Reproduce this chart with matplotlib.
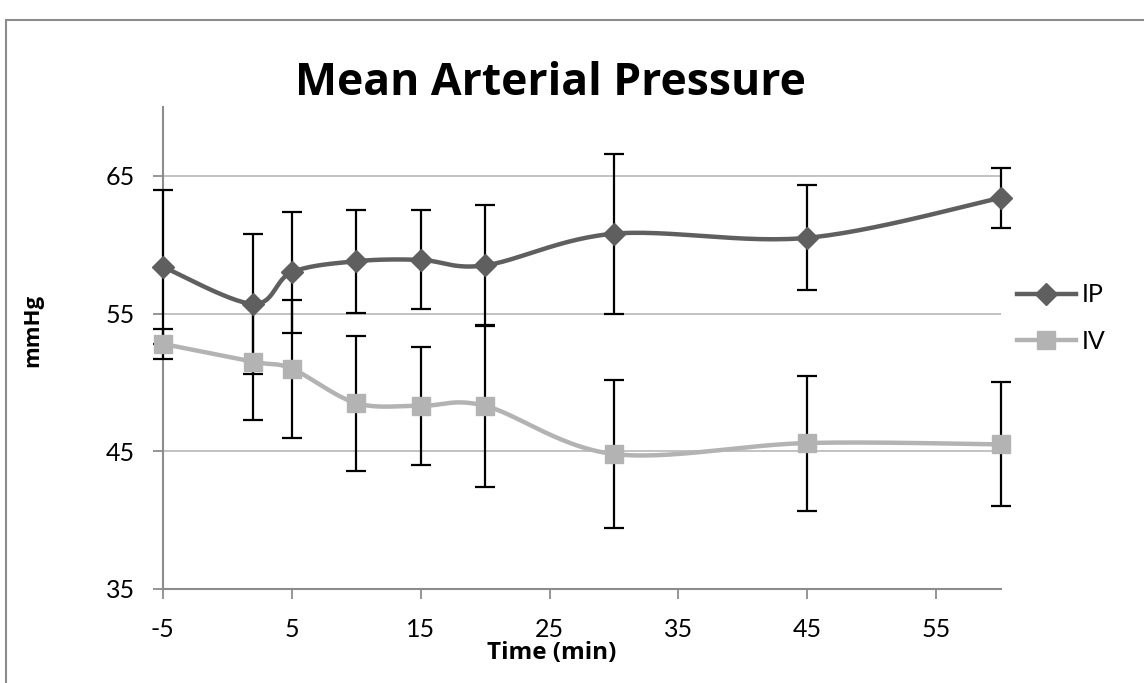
import numpy as np
import matplotlib
matplotlib.use("Agg")
import matplotlib.pyplot as plt
from matplotlib.patches import Rectangle
from matplotlib.lines import Line2D

plt.rcParams['font.family'] = ['Lato', 'DejaVu Sans']
plt.rcParams['axes.unicode_minus'] = False

# ---- data ----
time_min = [-5, 2, 5, 10, 15, 20, 30, 45, 60]
ip_mean = [58.4, 55.7, 58.0, 58.8, 58.9, 58.5, 60.8, 60.5, 63.4]
ip_err = [5.6, 5.1, 4.4, 3.75, 3.6, 4.4, 5.8, 3.8, 2.2]
iv_mean = [52.8, 51.5, 51.0, 48.5, 48.3, 48.3, 44.8, 45.6, 45.5]
iv_err = [1.1, 4.2, 5.0, 4.9, 4.3, 5.9, 5.4, 4.9, 4.5]
series_names = ["IP", "IV"]
x_ticks = [-5, 5, 15, 25, 35, 45, 55]
y_ticks = [35, 45, 55, 65]


def smooth(xs, ys, n=30):
    """Bezier smoothing like a spreadsheet 'smoothed line' (rendering only)."""
    P = np.column_stack([np.asarray(xs, float), np.asarray(ys, float)])
    out = []
    m = len(P)
    for i in range(m - 1):
        p0 = P[i - 1] if i > 0 else P[i]
        p1 = P[i]
        p2 = P[i + 1]
        p3 = P[i + 2] if i + 2 < m else P[i + 1]
        c1 = p1 + (p2 - p0) / 6.0
        c2 = p2 - (p3 - p1) / 6.0
        t = np.linspace(0, 1, n)[:, None]
        seg = ((1 - t) ** 3) * p1 + 3 * ((1 - t) ** 2) * t * c1 + 3 * (1 - t) * t ** 2 * c2 + t ** 3 * p2
        out.append(seg if i == 0 else seg[1:])
    out = np.vstack(out)
    return out[:, 0], out[:, 1]


W, H = 1144, 683
fig = plt.figure(figsize=(W / 100, H / 100), dpi=100)
fig.patch.set_facecolor("white")

# outer chart border
fig.patches.append(Rectangle((6 / W, -0.05), 1.2, (H - 20) / H + 0.05,
                             transform=fig.transFigure, fill=False,
                             edgecolor="#8c8c8c", linewidth=1.5))

ax = fig.add_axes([162.8 / W, 1 - 589 / H, (1000.7 - 162.8) / W, (589 - 107) / H])
ax.set_xlim(-5, 60)
ax.set_ylim(35, 70)

ip_col = "#5f5f5f"
iv_col = "#b3b3b3"

# error bars
for mean, err in ((ip_mean, ip_err), (iv_mean, iv_err)):
    eb = ax.errorbar(time_min, mean, yerr=err, fmt="none", ecolor="black",
                     elinewidth=1.6, capsize=7, capthick=1.6, zorder=3)
    for art in eb.lines[1] + eb.lines[2]:
        art.set_clip_on(False)

# smoothed lines
sx, sy = smooth(time_min, ip_mean)
ax.plot(sx, sy, color=ip_col, lw=3.2, zorder=4, solid_capstyle="round", clip_on=False)
sx, sy = smooth(time_min, iv_mean)
ax.plot(sx, sy, color=iv_col, lw=3.2, zorder=4, solid_capstyle="round", clip_on=False)

# markers
ax.plot(time_min, ip_mean, linestyle="none", marker="D", ms=11.5,
        color=ip_col, mec=ip_col, zorder=5, clip_on=False)
ax.plot(time_min, iv_mean, linestyle="none", marker="s", ms=12.5,
        color=iv_col, mec=iv_col, zorder=5, clip_on=False)

# legend
h_ip = Line2D([], [], color=ip_col, lw=3.2, marker="D", ms=11.5)
h_iv = Line2D([], [], color=iv_col, lw=3.2, marker="s", ms=12.5)
fig.legend([h_ip, h_iv], series_names, loc="center left",
           bbox_to_anchor=(1016.7 / W, 1 - 318.3 / H), frameon=False,
           fontsize=18, handlelength=2.36, handletextpad=0.25,
           labelspacing=0.95, borderpad=0, borderaxespad=0, numpoints=1)

# grid & spines
ax.set_yticks(y_ticks)
ax.set_xticks(x_ticks)
ax.yaxis.grid(True, color="#bdbdbd", linewidth=1.3)
ax.set_axisbelow(True)
for s in ["top", "right"]:
    ax.spines[s].set_visible(False)
for s in ["left", "bottom"]:
    ax.spines[s].set_color("#8c8c8c")
    ax.spines[s].set_linewidth(1.5)
ax.tick_params(axis="both", direction="out", length=7, width=1.3,
               color="#8c8c8c", labelsize=18, labelcolor="black")
ax.tick_params(axis="x", pad=14)
ax.tick_params(axis="y", pad=13)

fig.text(550.5 / W, 1 - 95 / H, "Mean Arterial Pressure", fontsize=32,
         fontweight="bold", family=["Open Sans", "DejaVu Sans"],
         ha="center", va="baseline")
fig.text(552 / W, 1 - 659 / H, "Time (min)", fontsize=17.5,
         fontweight="bold", family=["Open Sans", "DejaVu Sans"],
         ha="center", va="baseline")
fig.text(33 / W, 1 - 330 / H, "mmHg", fontsize=16, rotation=90,
         fontweight="bold", family=["Open Sans", "DejaVu Sans"],
         ha="center", va="center")

fig.savefig("out.png", dpi=100, facecolor="white")
